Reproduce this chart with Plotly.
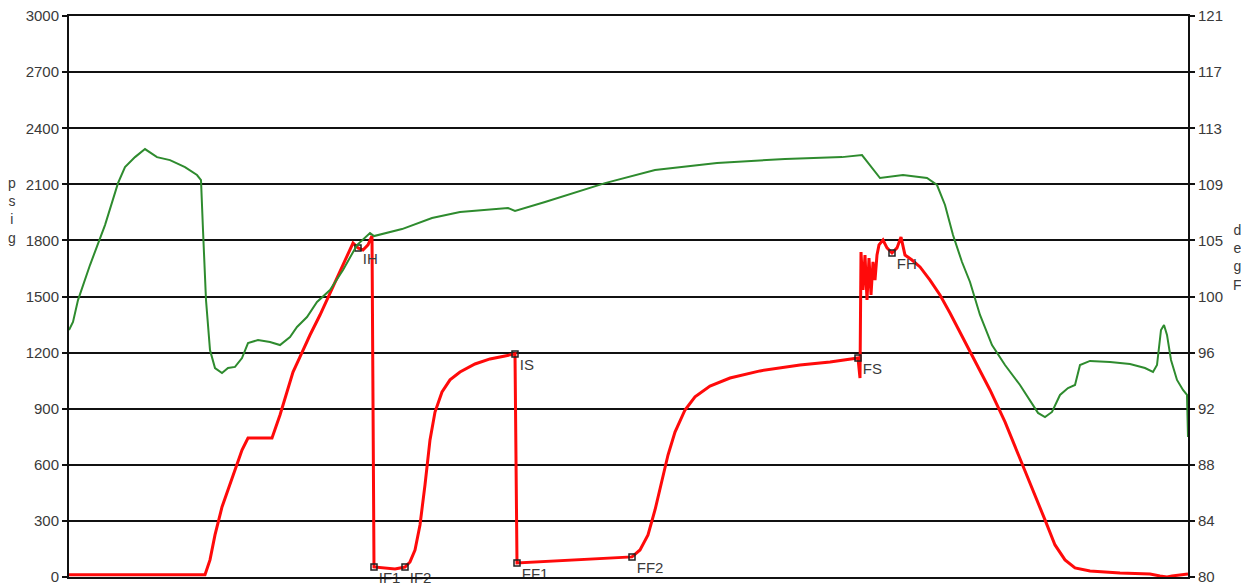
import plotly.graph_objects as go

# ---- Pressure (psig), left axis ----
press_t = [0, 136, 141, 146, 153, 159, 166, 173, 179, 203, 211, 218, 224, 231, 241, 251, 264, 278, 284,
           289, 294, 299, 303, 305, 326, 336, 341, 346, 351, 356, 361, 366, 373, 381, 391, 406, 421, 436,
           446, 448, 491, 531, 563, 571, 579, 586, 593, 599, 606, 616, 626, 641, 661, 691, 731, 761, 789,
           791, 792, 794, 796, 798, 800, 802, 804, 806, 808, 810, 814, 818, 823, 828, 832, 836, 843, 851,
           861, 871, 881, 891, 906, 921, 936, 951, 966, 976, 986, 996, 1006, 1021, 1051, 1081, 1091, 1098,
           1103, 1111, 1119]
press_psig = [11, 11, 91, 225, 374, 465, 572, 679, 743, 743, 866, 989, 1096, 1177, 1294, 1401, 1551, 1717, 1786,
              1760, 1749, 1776, 1824, 53, 43, 53, 80, 144, 278, 492, 733, 882, 989, 1054, 1096, 1139, 1166, 1182,
              1193, 75, 86, 96, 107, 144, 225, 358, 519, 652, 775, 893, 963, 1021, 1064, 1102, 1134, 1150, 1171,
              1064, 1738, 1535, 1722, 1481, 1706, 1508, 1685, 1588, 1722, 1776, 1802, 1760, 1733, 1760, 1818, 1722, 1695, 1658,
              1588, 1508, 1412, 1310, 1160, 1000, 829, 636, 439, 305, 171, 91, 48, 32, 21, 16, 5,
              0, 5, 11, 16]

# ---- Temperature (degF), right axis ----
temp_t = [0, 4, 9, 21, 36, 49, 56, 66, 76, 81, 88, 101, 116, 128, 132, 134, 137, 141, 146, 153, 159, 166,
          173, 179, 189, 201, 211, 221, 228, 238, 248, 261, 274, 288, 301, 305, 316, 333, 363, 391, 439, 446,
          476, 536, 586, 648, 716, 773, 793, 801, 811, 834, 858, 868, 876, 884, 893, 901, 911, 923, 936, 951,
          961, 969, 976, 983, 991, 999, 1006, 1011, 1021, 1041, 1061, 1076, 1084, 1088, 1092, 1095, 1098, 1102,
          1108, 1114, 1118, 1119]
temp_degF = [98.05, 98.64, 100.24, 102.80, 105.72, 108.79, 109.96, 110.69, 111.28, 111.06, 110.69, 110.47,
             109.96, 109.38, 109.01, 105.36, 100.24, 96.59, 95.27, 94.91, 95.27, 95.35, 96.00, 97.10, 97.32,
             97.17, 96.95, 97.54, 98.27, 99.00, 100.10, 100.97, 102.44, 104.26, 105.14, 104.92, 105.14, 105.43,
             106.24, 106.67, 106.97, 106.75, 107.41, 108.79, 109.74, 110.26, 110.55, 110.69, 110.84, 110.11,
             109.16, 109.38, 109.16, 108.65, 107.19, 104.99, 103.02, 101.56, 99.15, 96.95, 95.49, 94.03, 92.94,
             91.99, 91.69, 92.06, 93.30, 93.81, 94.03, 95.49, 95.79, 95.71, 95.57, 95.27, 94.98, 95.49, 98.05,
             98.42, 97.69, 95.86, 94.40, 93.67, 93.30, 90.23]

# ---- Event markers ----
event_names = ["IH", "IF1", "IF2", "IS", "FF1", "FF2", "FS", "FH"]
event_t = [289, 305, 336, 446, 448, 563, 789, 823]
event_psig = [1760, 53, 53, 1193, 75, 107, 1171, 1733]

# ---- Axis ticks and titles ----
psig_ticks = [0, 300, 600, 900, 1200, 1500, 1800, 2100, 2400, 2700, 3000]
degF_tickvals = [80, 84.1, 88.2, 92.3, 96.4, 100.5, 104.6, 108.7, 112.8, 116.9, 121]
degF_ticktext = ["80", "84", "88", "92", "96", "100", "105", "109", "113", "117", "121"]
left_title = ["p", "s", "i", "g"]
right_title = ["d", "e", "g", "F"]

FONT = "Liberation Sans, Arial, sans-serif"
TXT = "#3a3a3a"
PAD = 0.5  # psig padding so edge grid lines are kept
PAD_F = PAD * 41 / 3000

fig = go.Figure()
fig.add_trace(go.Scatter(x=temp_t, y=temp_degF, yaxis="y2", mode="lines",
                         line=dict(color="#2e8b2e", width=2), showlegend=False))
fig.add_trace(go.Scatter(x=press_t, y=press_psig, mode="lines",
                         line=dict(color="#ff0a0a", width=3), showlegend=False))
fig.add_trace(go.Scatter(x=event_t, y=event_psig, mode="markers+text",
                         marker=dict(symbol="square-open", size=6, color="#222222", line=dict(width=1.5)),
                         text=event_names, textposition="bottom right",
                         textfont=dict(family=FONT, size=15, color=TXT), showlegend=False,
                         cliponaxis=False))

fig.update_layout(
    width=1241, height=578,
    margin=dict(l=61, r=61, t=8, b=9, autoexpand=False),
    paper_bgcolor="white", plot_bgcolor="white",
    font=dict(family=FONT, size=15, color=TXT),
    xaxis=dict(range=[0, 1119], showgrid=False, zeroline=False, showticklabels=False, ticks="",
               automargin=False, showline=True, mirror=True, linecolor="#111111", linewidth=2),
    yaxis=dict(range=[-PAD, 3000 + PAD], tickvals=psig_ticks, showgrid=True, gridcolor="#111111", gridwidth=2,
               zeroline=False, showline=True, linecolor="#111111", linewidth=2, automargin=False,
               ticks="outside", ticklen=5, tickcolor="#111111", tickwidth=2, ticklabeloverflow="allow",
               tickfont=dict(family=FONT, size=15, color=TXT)),
    yaxis2=dict(range=[80 - PAD_F, 121 + PAD_F], overlaying="y", side="right", tickvals=degF_tickvals,
                ticktext=degF_ticktext, automargin=False, ticklabeloverflow="allow",
                showgrid=False, zeroline=False, showline=True, linecolor="#111111", linewidth=2,
                ticks="outside", ticklen=5, tickcolor="#111111", tickwidth=2,
                tickfont=dict(family=FONT, size=15, color=TXT)),
    annotations=[
        dict(text="<br>".join(left_title), xref="paper", yref="paper", x=-0.0509, y=0.654, showarrow=False,
             xanchor="center", yanchor="middle", font=dict(family=FONT, size=14, color=TXT)),
        dict(text="<br>".join(right_title), xref="paper", yref="paper", x=1.0438, y=0.569, showarrow=False,
             xanchor="center", yanchor="middle", font=dict(family=FONT, size=14, color=TXT)),
    ],
)

fig.write_html("out.html")
